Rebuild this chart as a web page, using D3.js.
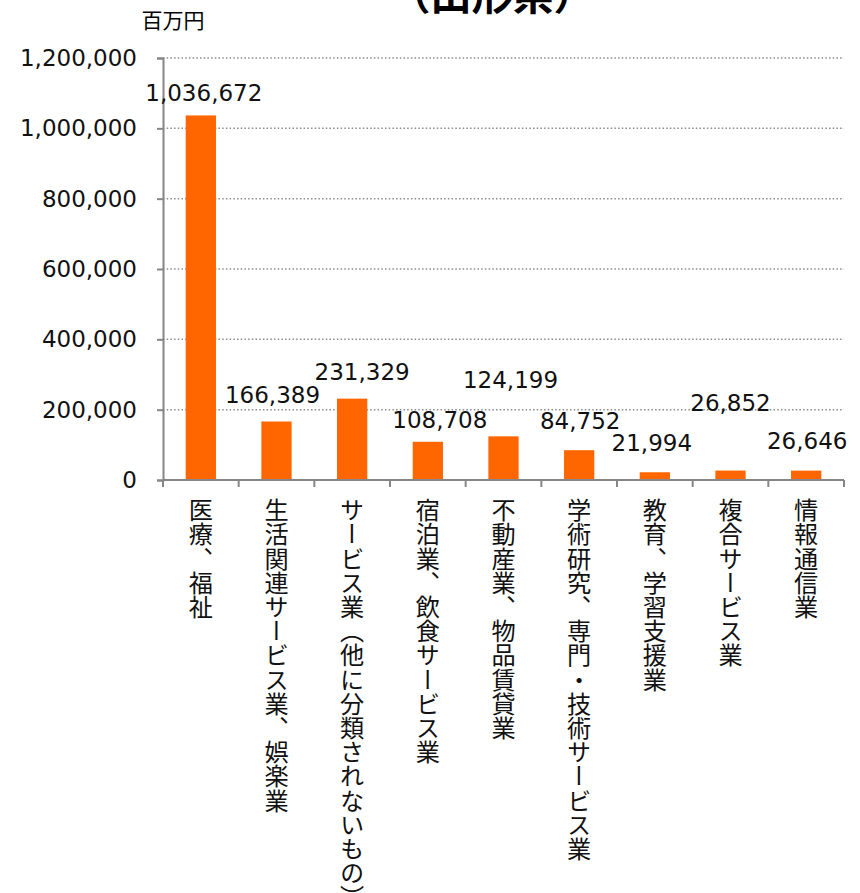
<!DOCTYPE html>
<html>
<head>
<meta charset="utf-8">
<script src="https://cdn.jsdelivr.net/npm/d3@7"></script>
<style>
  body { margin: 0; background: #fff; }
  svg { display: block; }
</style>
</head>
<body>
<div id="chart"></div>
<script>
// categories and values (百万円)
const categories = [
  "医療、福祉",
  "生活関連サービス業、娯楽業",
  "サービス業（他に分類されないもの）",
  "宿泊業、飲食サービス業",
  "不動産業、物品賃貸業",
  "学術研究、専門・技術サービス業",
  "教育、学習支援業",
  "複合サービス業",
  "情報通信業"
];
const values = [1036672, 166389, 231329, 108708, 124199, 84752, 21994, 26852, 26646];
const yTicks = [0, 200000, 400000, 600000, 800000, 1000000, 1200000];

// data label nudges (dx, rise above bar top), as placed in the original
const labelShift = [[3, 22], [-4, 27], [10, 27], [12, 22], [7, 56], [1, 29], [-3, 29], [0, 68], [1, 30]];

const width = 860, height = 893;
const margin = { top: 58, right: 16, bottom: 413, left: 163 };

const svg = d3.select("#chart")
  .append("svg")
  .attr("width", width)
  .attr("height", height);

const x = d3.scaleBand()
  .domain(categories)
  .range([margin.left, width - margin.right])
  .paddingInner(0.6)
  .paddingOuter(0.3);

const y = d3.scaleLinear()
  .domain([0, 1200000])
  .range([height - margin.bottom, margin.top]);

const numFont = "'DejaVu Sans', Verdana, sans-serif";
const jpFont = "'Noto Sans CJK JP', sans-serif";

// title (cut off at top, as in the original)
svg.append("text")
  .attr("x", 492)
  .attr("y", 10)
  .attr("text-anchor", "middle")
  .attr("font-family", jpFont)
  .attr("font-weight", "bold")
  .attr("font-size", 41)
  .text("（山形県）");

// unit
svg.append("text")
  .attr("x", 173)
  .attr("y", 28)
  .attr("text-anchor", "middle")
  .attr("font-family", jpFont)
  .attr("font-size", 21)
  .text("百万円");

// gridlines
svg.append("g")
  .selectAll("line")
  .data(yTicks.filter(d => d > 0))
  .join("line")
  .attr("x1", margin.left)
  .attr("x2", width - margin.right)
  .attr("y1", d => y(d))
  .attr("y2", d => y(d))
  .attr("stroke", "#8c8c8c")
  .attr("stroke-width", 1.5)
  .attr("stroke-dasharray", "1.5,2.2");

// y axis
const yAxis = svg.append("g")
  .attr("transform", `translate(${margin.left},0)`)
  .call(d3.axisLeft(y).tickValues(yTicks).tickFormat(d3.format(",")).tickSize(6).tickPadding(20));
yAxis.selectAll("path, line").attr("stroke", "#868686").attr("stroke-width", 2);
yAxis.selectAll("text")
  .attr("font-family", numFont)
  .attr("font-size", 23)
  .attr("fill", "#111");

// bars
svg.append("g")
  .selectAll("rect")
  .data(values)
  .join("rect")
  .attr("fill", "#ff6600")
  .attr("x", (d, i) => x(categories[i]))
  .attr("width", x.bandwidth())
  .attr("y", d => y(d))
  .attr("height", d => y(0) - y(d));

// x axis line and category ticks
const step = x.step();
const x0 = x(categories[0]) - x.paddingOuter() * step;
const xAxis = svg.append("g");
xAxis.append("line")
  .attr("x1", x0).attr("x2", x0 + step * categories.length)
  .attr("y1", y(0)).attr("y2", y(0))
  .attr("stroke", "#868686").attr("stroke-width", 2);
xAxis.selectAll(".tick")
  .data(d3.range(categories.length + 1))
  .join("line")
  .attr("class", "tick")
  .attr("x1", i => x0 + i * step).attr("x2", i => x0 + i * step)
  .attr("y1", y(0)).attr("y2", y(0) + 7)
  .attr("stroke", "#868686").attr("stroke-width", 2);

// vertical category labels
svg.append("g")
  .selectAll("text")
  .data(categories)
  .join("text")
  .attr("x", d => x(d) + x.bandwidth() / 2)
  .attr("y", 498)
  .style("writing-mode", "vertical-rl")
  .attr("font-family", jpFont)
  .attr("font-size", 24.2)
  .attr("fill", "#111")
  .text(d => d);

// data labels
svg.append("g")
  .selectAll("text")
  .data(values)
  .join("text")
  .attr("x", (d, i) => x(categories[i]) + x.bandwidth() / 2 + labelShift[i][0])
  .attr("y", (d, i) => y(d) - labelShift[i][1])
  .attr("dy", "0.35em")
  .attr("text-anchor", "middle")
  .attr("font-family", numFont)
  .attr("font-size", 23)
  .attr("fill", "#111")
  .text(d => d3.format(",")(d));
</script>
</body>
</html>
